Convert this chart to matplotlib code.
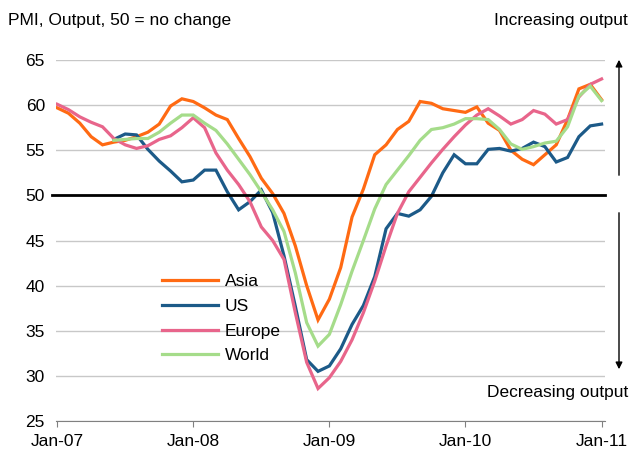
import matplotlib.pyplot as plt
from matplotlib.patches import FancyArrowPatch

plt.rcParams['font.family'] = ['Liberation Sans', 'DejaVu Sans']

# Datos mensuales ene-07 .. ene-11 (49 meses); None = sin dato
meses = list(range(49))
etiquetas_x = ["Jan-07", "Jan-08", "Jan-09", "Jan-10", "Jan-11"]

asia = [59.7, 59.1, 58.0, 56.5, 55.6, 55.9, 56.1, 56.5, 57.0, 57.9,
        59.9, 60.7, 60.4, 59.7, 58.9, 58.4, 56.3, 54.3, 51.9, 50.2,
        48.0, 44.4, 40.0, 36.2, 38.5, 42.0, 47.6, 50.7, 54.5, 55.6,
        57.3, 58.2, 60.4, 60.2, 59.6, 59.4, 59.2, 59.8, 58.0, 57.2,
        55.0, 54.0, 53.4, 54.5, 55.6, 58.4, 61.8, 62.3, 60.6]

us = [None, None, None, None, None, 56.2, 56.8, 56.7, 55.1, 53.8,
      52.7, 51.5, 51.7, 52.8, 52.8, 50.4, 48.4, 49.3, 50.6, 48.1,
      43.3, 37.7, 31.8, 30.5, 31.1, 33.0, 35.7, 37.8, 41.0, 46.3,
      48.0, 47.7, 48.4, 49.9, 52.5, 54.5, 53.5, 53.5, 55.1, 55.2,
      54.9, 55.2, 55.9, 55.4, 53.7, 54.2, 56.5, 57.7, 57.9]

europa = [60.1, 59.5, 58.7, 58.1, 57.6, 56.3, 55.6, 55.2, 55.5, 56.2,
          56.6, 57.5, 58.6, 57.5, 54.7, 52.8, 51.2, 49.3, 46.5, 45.0,
          42.9, 37.0, 31.5, 28.6, 29.8, 31.6, 34.0, 37.0, 40.5, 44.4,
          48.0, 50.4, 52.0, 53.6, 55.1, 56.5, 57.8, 58.9, 59.6, 58.8,
          57.9, 58.4, 59.4, 59.0, 57.9, 58.4, 60.9, 62.3, 62.9]

mundo = [None, None, None, None, None, 56.1, 56.2, 56.3, 56.3, 57.0,
         58.0, 58.9, 58.9, 58.0, 57.2, 55.7, 54.0, 52.3, 50.4, 48.4,
         46.0, 41.4, 35.9, 33.3, 34.6, 37.9, 41.6, 45.0, 48.5, 51.2,
         52.8, 54.4, 56.1, 57.3, 57.5, 57.9, 58.5, 58.5, 58.4, 57.3,
         55.7, 55.1, 55.4, 55.8, 56.0, 57.6, 61.0, 62.1, 60.5]

series = [("Asia", asia, "#ff6a13"),
          ("US", us, "#1c5a88"),
          ("Europe", europa, "#e8658b"),
          ("World", mundo, "#a5dc8a")]

W, H = 633, 455
fig = plt.figure(figsize=(W / 100, H / 100), dpi=100)
ax = fig.add_axes([56 / W, 1 - 421 / H, (605 - 56) / W, (421 - 60) / H])

for nombre, valores, color in series:
    ys = [float('nan') if v is None else v for v in valores]
    ax.plot(meses, ys, color=color, linewidth=2.3, label=nombre,
            solid_joinstyle='miter')

ax.set_xlim(-0.1, 48.3)
ax.set_ylim(25, 65)
ax.set_yticks(range(25, 66, 5))
ax.set_xticks([0, 12, 24, 36, 48])
ax.set_xticklabels(etiquetas_x)

ax.grid(axis="y", color="#c8c8c8", linewidth=1)
ax.set_axisbelow(True)
ax.axhline(50, xmin=-0.008, xmax=1, color="black", linewidth=2, clip_on=False)

for lado in ["top", "right", "left"]:
    ax.spines[lado].set_visible(False)
ax.spines["bottom"].set_color("#808080")
ax.tick_params(axis="y", length=0, pad=8, labelsize=12.5)
ax.tick_params(axis="x", length=4, color="#808080", pad=5, labelsize=12.5)

ax.legend(loc="upper left", bbox_to_anchor=(0.165, 0.45), frameon=False,
          fontsize=12.5, handlelength=3.2, handletextpad=0.4, labelspacing=0.55)

fig.text(8 / W, 1 - 20 / H, "PMI, Output, 50 = no change", fontsize=12.5,
         ha="left", va="center")
fig.text(628 / W, 1 - 20 / H, "Increasing output", fontsize=12.5,
         ha="right", va="center")
fig.text(628 / W, 1 - 393 / H, "Decreasing output", fontsize=12.5,
         ha="right", va="center")

# Flechas a la derecha
for y0, y1 in [(178, 57), (210, 372)]:
    fig.patches.append(FancyArrowPatch((619 / W, 1 - y0 / H), (619 / W, 1 - y1 / H),
                                       transform=fig.transFigure, arrowstyle="-|>",
                                       mutation_scale=10, color="black", linewidth=1))

fig.savefig("out.png", dpi=100)
